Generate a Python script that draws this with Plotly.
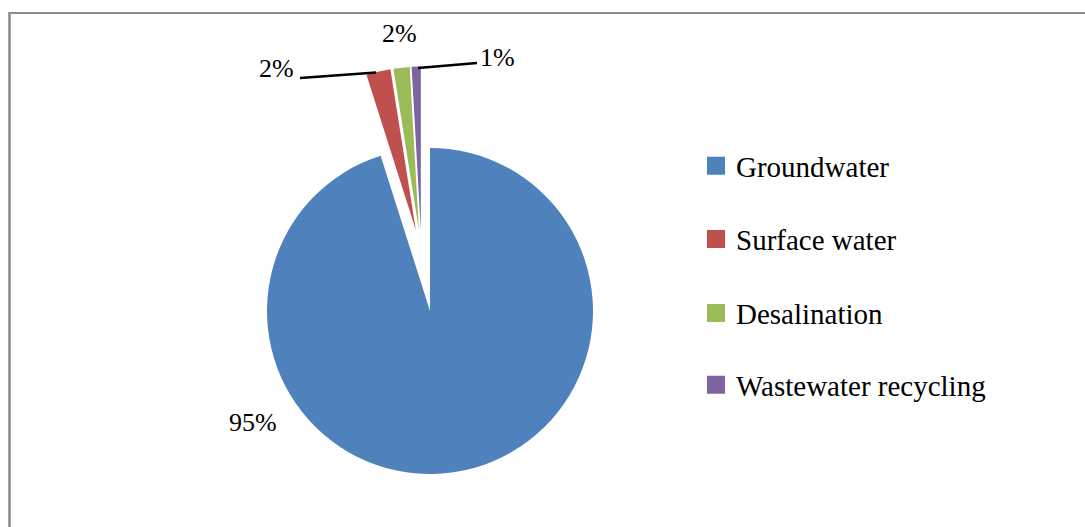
import plotly.graph_objects as go

# ---- data ----
categories = ["Groundwater", "Surface water", "Desalination", "Wastewater recycling"]
shares = [95.1, 2.4, 1.6, 0.9]
colors = ["#4F81BD", "#C0504D", "#9BBB59", "#8064A2"]
pct_labels = [f"{round(v)}%" for v in shares]

W, H = 1085, 527
TRANSP = "rgba(0,0,0,0)"


def px(x):
    return x / W


def py(y):
    return 1 - y / H


def dom(cx, cy, half):
    return dict(x=[px(cx - half), px(cx + half)], y=[py(cy + half), py(cy - half)])


R = 163
PULL = 0.15

fig = go.Figure()

# main (large) slice, unexploded
fig.add_trace(go.Pie(
    labels=categories, values=shares, sort=False, direction="clockwise", rotation=0,
    marker=dict(colors=[colors[0], TRANSP, TRANSP, TRANSP], line=dict(width=0)),
    textinfo="none", hoverinfo="skip", showlegend=False,
    domain=dom(430, 311, R),
))

# exploded small slices
fig.add_trace(go.Pie(
    labels=categories, values=shares, sort=False, direction="clockwise", rotation=0,
    marker=dict(colors=[TRANSP] + colors[1:], line=dict(width=0)),
    pull=[0, PULL, PULL, PULL],
    textinfo="none", hoverinfo="skip", showlegend=False,
    domain=dom(421.5, 254, R * (1 + PULL)),
))

# legend entries (one legend each for exact spacing)
legend_y = [165.8, 239.2, 313.2, 385.0]
legend_names = ["legend", "legend2", "legend3", "legend4"]
for name, col, lname in zip(categories, colors, legend_names):
    fig.add_trace(go.Scatter(
        x=[None], y=[None], mode="markers", name=name,
        marker=dict(symbol="square", size=16, color=col, line=dict(color=col, width=2)),
        legend=lname, showlegend=True,
    ))

legend_layout = {}
for lname, ly in zip(legend_names, legend_y):
    legend_layout[lname] = dict(
        x=px(696), y=py(ly), xanchor="left", yanchor="middle",
        bgcolor=TRANSP, borderwidth=0,
        font=dict(family="Liberation Serif, Times New Roman, serif", size=29, color="#000000"),
    )

# data labels
label_pos = [(253, 422.3), (276, 68.5), (399, 33.5), (497, 57.0)]
annotations = []
for txt, (lx, ly) in zip(pct_labels, label_pos):
    annotations.append(dict(
        x=px(lx), y=py(ly), xref="paper", yref="paper", text=txt, showarrow=False,
        xanchor="center", yanchor="middle",
        font=dict(family="Liberation Serif, Times New Roman, serif", size=26, color="#000000"),
    ))

shapes = [
    # leader lines
    dict(type="line", xref="paper", yref="paper", x0=px(300), y0=py(78), x1=px(376), y1=py(72.5),
         line=dict(color="#000000", width=2.5)),
    dict(type="line", xref="paper", yref="paper", x0=px(418), y0=py(68), x1=px(477), y1=py(63),
         line=dict(color="#000000", width=2.5)),
    # chart border (left + top visible)
    dict(type="line", xref="paper", yref="paper", x0=px(9.5), y0=py(540), x1=px(9.5), y1=py(13),
         line=dict(color="#8A8A8A", width=2.5)),
    dict(type="line", xref="paper", yref="paper", x0=px(8.3), y0=py(13), x1=px(1100), y1=py(13),
         line=dict(color="#8A8A8A", width=2)),
]

fig.update_layout(
    width=W, height=H,
    margin=dict(l=0, r=0, t=0, b=0),
    paper_bgcolor="#FFFFFF", plot_bgcolor="#FFFFFF",
    xaxis=dict(visible=False), yaxis=dict(visible=False),
    annotations=annotations, shapes=shapes,
    **legend_layout,
)

fig.write_html("out.html")
